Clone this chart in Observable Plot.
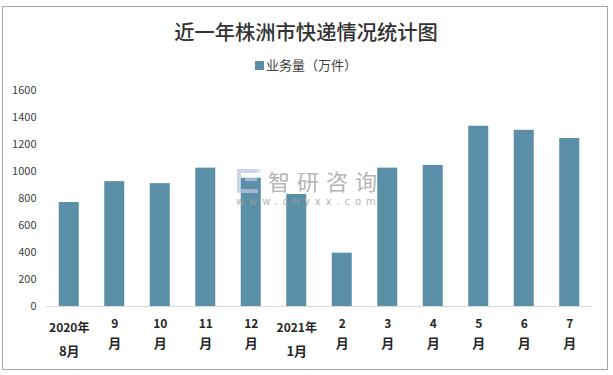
<!DOCTYPE html>
<html><head><meta charset="utf-8">
<script src="https://cdn.jsdelivr.net/npm/d3@7"></script>
<script src="https://cdn.jsdelivr.net/npm/@observablehq/plot@0.6"></script>
<style>
html,body{margin:0;padding:0;background:#fff;overflow:hidden}
#wrap{position:relative;width:613px;height:375px;font-family:"Noto Sans CJK SC",sans-serif}
#frame{position:absolute;left:2px;top:6px;width:604px;height:362px;border:1px solid #a6a6a6}
#title{position:absolute;left:0;top:18px;width:612px;text-align:center;font-size:20.3px;font-weight:500;color:#333;line-height:26px}
#legend{position:absolute;left:255px;top:55px;font-size:13px;color:#404040;line-height:19px;white-space:nowrap}
#legend i{position:absolute;left:0;top:6px;width:8.5px;height:8.5px;background:#5b8fa8}
#legend span{position:absolute;left:11px;top:0}
#plot{position:absolute;left:0;top:0}
#wm{position:absolute;left:236px;top:166px;color:#a3a3a3;pointer-events:none}
#wm .a{position:absolute;left:32px;top:1.5px;font-size:22px;letter-spacing:7px;white-space:nowrap;line-height:24px;opacity:.8}
#wm .b{position:absolute;left:0;top:29.5px;font-size:10px;letter-spacing:4.9px;white-space:nowrap;line-height:12px;font-family:"DejaVu Sans";opacity:.8}
#wm .c{position:absolute;left:1px;top:3px;width:17px;height:16px;border:4px solid #bcc6de;border-right:0;opacity:.75}
#wm .d{position:absolute;left:21px;top:3px;width:4px;height:4px;background:#cfe3f2;opacity:.8}
#wm .e{position:absolute;left:9px;top:12px;width:12px;height:3px;background:#bcc6de;opacity:.75}
</style></head><body>
<div id="wrap">
<div id="frame"></div>
<div id="plot"></div>
<div id="title"></div>
<div id="legend"><i></i><span></span></div>
<div id="wm"><div class="c"></div><div class="d"></div><div class="e"></div><div class="a">智研咨询</div><div class="b">www.chyxx.com</div></div>
</div>
<script>
const titleText = "近一年株洲市快递情况统计图";
const seriesName = "业务量\uFF08万件\uFF09";
const months = ["2020年8月","9月","10月","11月","12月","2021年1月","2月","3月","4月","5月","6月","7月"];
const upperLabels = ["2020年","9","10","11","12","2021年","2","3","4","5","6","7"];
const lowerLabels = ["8月","月","月","月","月","1月","月","月","月","月","月","月"];
const volume = [770,925,910,1025,950,830,395,1025,1045,1335,1305,1245];
const yTicks = [0,200,400,600,800,1000,1200,1400,1600];
const barColor = "#5b8fa8";

document.getElementById("title").textContent = titleText;
document.querySelector("#legend span").textContent = seriesName;

const rows = months.map((m,i)=>({m,v:volume[i],up:upperLabels[i],lo:lowerLabels[i],two:upperLabels[i].length>2}));
const label = (field,filter,dy,size)=>Plot.text(rows.filter(filter),{
  x:"m",text:field,frameAnchor:"bottom",dy,fontSize:size,fontWeight:"bold",fill:"#262626",lineAnchor:"middle"
});
const chart = Plot.plot({
  width:613,height:375,
  marginLeft:46,marginRight:21,marginTop:90,marginBottom:69,
  style:{background:"transparent",fontFamily:'"Noto Sans CJK SC",sans-serif',overflow:"visible"},
  x:{domain:months,paddingInner:0.56,paddingOuter:0.28,round:false,label:null,axis:null},
  y:{domain:[0,1600],label:null,axis:null},
  marks:[
    Plot.barY(rows,{x:"m",y:"v",fill:barColor}),
    Plot.ruleY([0],{stroke:"#d9d9d9",strokeWidth:1.2}),
    Plot.axisY({ticks:yTicks,tickFormat:d=>String(d),tickSize:0,tickPadding:10,label:null,fontSize:11,color:"#404040"}),
    label("up",d=>d.two,22,12),
    label("lo",d=>d.two,45,13),
    label("up",d=>!d.two,18,12),
    label("lo",d=>!d.two,37,13)
  ]
});
document.getElementById("plot").appendChild(chart);
</script>
</body></html>
